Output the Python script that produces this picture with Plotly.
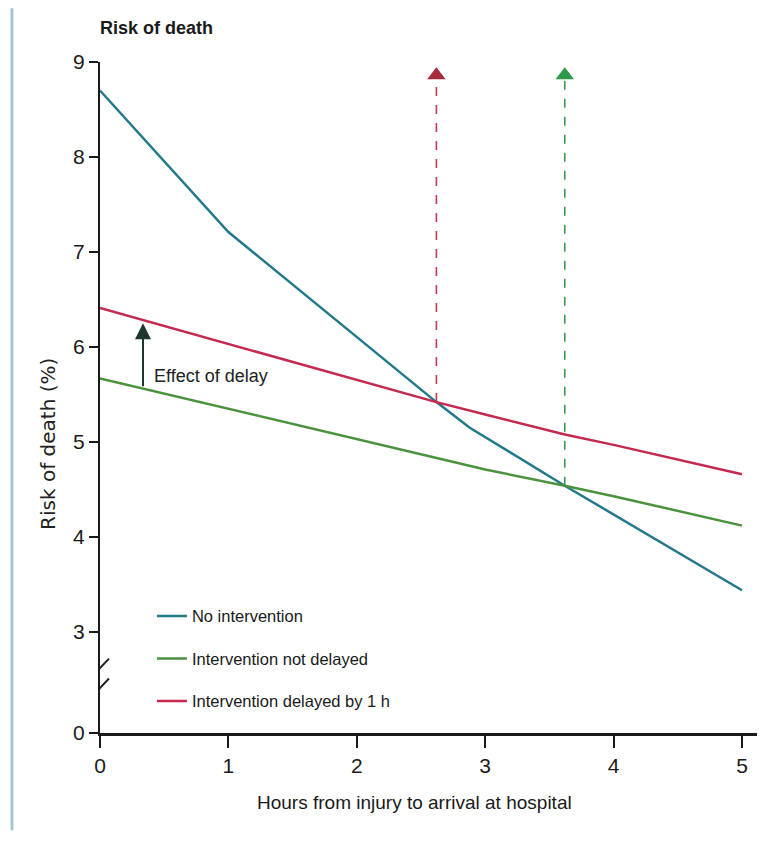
import plotly.graph_objects as go

# ---------------- data ----------------
hours_none = [0, 1.0, 2.62, 2.88, 3.62, 5]
risk_none = [8.70, 7.21, 5.42, 5.15, 4.54, 3.44]

hours_not_delayed = [0, 1, 2, 3, 3.62, 4, 5]
risk_not_delayed = [5.67, 5.35, 5.03, 4.71, 4.54, 4.43, 4.12]

hours_delayed = [0, 1, 2, 2.62, 3, 3.62, 4, 5]
risk_delayed = [6.41, 6.03, 5.65, 5.42, 5.29, 5.08, 4.97, 4.66]

# crossing points (hours, risk) where intervention stops being beneficial
cross_hours = [2.62, 3.62]
cross_risk = [5.42, 4.54]
cross_colors = ["#c23a55", "#3a9a55"]
cross_head_colors = ["#a52a3a", "#2e9a48"]
arrow_top = 8.86

# "Effect of delay" arrow
delay_hour = 0.335
delay_from = 5.57
delay_to = 6.25
delay_label_y = 5.69

x_ticks = [0, 1, 2, 3, 4, 5]
y_ticks = [3, 4, 5, 6, 7, 8, 9]
BREAK_POS = 1.937  # where the broken-axis "0" sits on the linear scale

names = ["No intervention", "Intervention not delayed", "Intervention delayed by 1 h"]
colors = ["#23788b", "#4a923e", "#c4294f"]

SANS = "Liberation Sans, Arial, sans-serif"

fig = go.Figure()

for i, (xs, ys) in enumerate([(hours_none, risk_none),
                              (hours_not_delayed, risk_not_delayed),
                              (hours_delayed, risk_delayed)]):
    fig.add_trace(go.Scatter(x=xs, y=ys, mode="lines", name=names[i],
                             line=dict(color=colors[i], width=2.5),
                             legendgroup=str(i)))

# dashed arrows at the crossing points
for hx, hy, c, hc in zip(cross_hours, cross_risk, cross_colors, cross_head_colors):
    fig.add_trace(go.Scatter(x=[hx, hx], y=[hy, arrow_top], mode="lines",
                             line=dict(color=c, width=1.6, dash="dash"),
                             showlegend=False, hoverinfo="skip"))
    fig.add_trace(go.Scatter(x=[hx], y=[arrow_top], mode="markers",
                             marker=dict(symbol="triangle-up", size=16, color=hc),
                             showlegend=False, hoverinfo="skip"))

# Effect of delay arrow
fig.add_annotation(x=delay_hour, y=delay_to, ax=delay_hour, ay=delay_from,
                   xref="x", yref="y", axref="x", ayref="y", text="",
                   showarrow=True, arrowhead=2, arrowsize=1.6, arrowwidth=2,
                   arrowcolor="#1c3630")
fig.add_annotation(x=delay_hour + 0.07, y=delay_label_y,
                   xref="x", yref="y", text="Effect of delay", showarrow=False,
                   xanchor="left", yanchor="middle",
                   font=dict(family=SANS, size=18, color="#222"))

# Titles
fig.add_annotation(x=-0.003, y=1.0507, xref="paper", yref="paper", text="<b>Risk of death</b>",
                   showarrow=False, xanchor="left", yanchor="middle",
                   font=dict(family=SANS, size=18, color="#1a1a1a"))
fig.add_annotation(x=-0.079, y=0.431, xref="paper", yref="paper", text="Risk of death (%)",
                   showarrow=False, textangle=-90, xanchor="center", yanchor="middle",
                   font=dict(family="DejaVu Sans, sans-serif", size=20, color="#222"))
fig.add_annotation(x=0.478, y=-0.104, xref="paper", yref="paper",
                   text="Hours from injury to arrival at hospital",
                   showarrow=False, xanchor="center", yanchor="middle",
                   font=dict(family=SANS, size=19, color="#1a1a1a"))

# axis break marks
for yb in [2.59, 2.38]:
    fig.add_shape(type="line", xref="x", yref="y",
                  x0=-0.1, y0=yb - 0.11, x1=0.07, y1=yb + 0.13,
                  line=dict(color="#222", width=2))

# decorative page border (left)
fig.add_shape(type="line", xref="paper", yref="paper",
              x0=-0.134, x1=-0.134, y0=1.08, y1=-0.145,
              line=dict(color="#a9c3d6", width=3))

# page body has an 8px margin: figure is offset by 8px, so size/margins compensate
fig.update_layout(
    width=763, height=842,
    margin=dict(l=92, r=14, t=54, b=117),
    plot_bgcolor="white", paper_bgcolor="white",
    showlegend=True,
    legend=dict(x=0.079, y=0.2, xanchor="left", yanchor="top",
                bgcolor="rgba(0,0,0,0)", tracegroupgap=18,
                font=dict(family=SANS, size=16.5, color="#1a1a1a")),
    xaxis=dict(range=[0, 5.117], tickvals=x_ticks, showgrid=False, zeroline=False,
               showline=True, linecolor="#1a1a1a", linewidth=3,
               ticks="outside", ticklen=12, tickwidth=2, tickcolor="#1a1a1a",
               tickfont=dict(family=SANS, size=21, color="#1a1a1a")),
    yaxis=dict(range=[BREAK_POS, 9.0], tickvals=[BREAK_POS] + y_ticks,
               ticktext=["0"] + [str(v) for v in y_ticks],
               showgrid=False, zeroline=False,
               showline=True, linecolor="#1a1a1a", linewidth=2,
               ticks="outside", ticklen=9, tickwidth=2, tickcolor="#1a1a1a",
               tickfont=dict(family=SANS, size=21, color="#1a1a1a")),
)

fig.write_html("out.html")
